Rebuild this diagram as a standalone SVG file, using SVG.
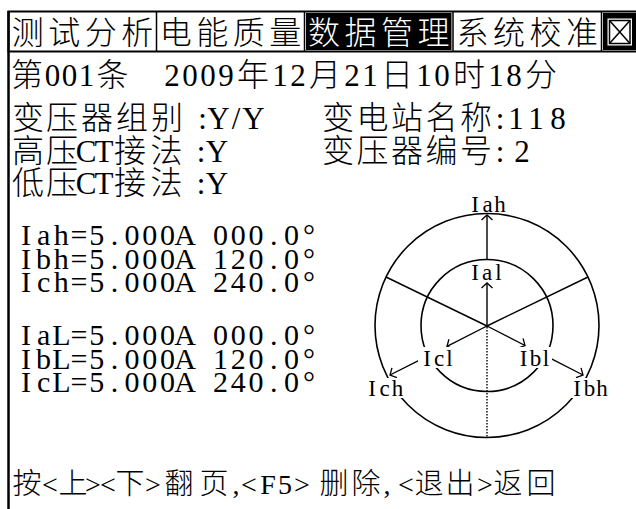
<svg xmlns="http://www.w3.org/2000/svg" width="636" height="509" viewBox="0 0 636 509">
<style>
  .bg { fill: #ffffff; }
  .frame { fill: none; stroke: #000; stroke-width: 2; }
  .sep { stroke: #000; stroke-width: 1.5; }
  .g { text-anchor: middle; }
  .tab { font-family: "Noto Sans CJK SC", "Liberation Serif", sans-serif; font-size: 32px; font-weight: 300; fill: #000; }
  .tab-on { fill: #fff; }
  .row { font-family: "Liberation Serif", "Noto Sans CJK SC", serif; font-size: 31px; fill: #000; }
  .row .cjk, .cjk { font-family: "Noto Sans CJK SC", sans-serif; font-size: 32px; font-weight: 300; }
  .data { font-family: "Liberation Serif", serif; font-size: 30px; fill: #000; }
  .bot { font-family: "Liberation Serif", "Noto Sans CJK SC", serif; font-size: 28px; fill: #000; }
  .bot .cjk { font-size: 29px; }
  .lbl { font-family: "Liberation Serif", serif; font-size: 23px; fill: #000; }
  .ring { fill: none; stroke: #000; stroke-width: 1.6; }
  .ln { fill: none; stroke: #000; stroke-width: 1.4; }
  .arr { marker-end: url(#caret); }
  .dot { fill: none; stroke: #000; stroke-width: 1.4; stroke-dasharray: 1.5 1.5; }
  .lblbg { fill: #fff; }
</style>
<defs>
  <marker id="caret" markerUnits="userSpaceOnUse" markerWidth="14" markerHeight="14" viewBox="-7 -7 14 14" refX="0" refY="0" orient="auto">
    <path d="M-5,-5.5 L0,0 L-5,5.5" fill="none" stroke="#000" stroke-width="1.3"/>
  </marker>
</defs>
<rect class="bg" x="0" y="0" width="636" height="509"/>

<g id="tabbar">
  <rect class="frame" x="8.5" y="11.5" width="640" height="40"/>
  <line class="sep" x1="156.5" y1="11.5" x2="156.5" y2="51.5"/>
  <line class="sep" x1="304.5" y1="11.5" x2="304.5" y2="51.5"/>
  <line class="sep" x1="453" y1="11.5" x2="453" y2="51.5"/>
  <line class="sep" x1="601.5" y1="11.5" x2="601.5" y2="51.5"/>
  <g id="tab-test"><text class="tab g" x="27.75 64.25 100.75 137.25" y="44">测试分析</text></g>
  <g id="tab-power"><text class="tab g" x="175.75 212.25 248.75 285.25" y="44">电能质量</text></g>
  <g id="tab-data">
    <rect x="306" y="13" width="145.5" height="37" fill="#000"/>
    <text class="tab tab-on g" x="324 360.5 397 433.5" y="44">数据管理</text>
  </g>
  <g id="tab-calib"><text class="tab g" x="472.5 509 545.5 582" y="44">系统校准</text></g>
  <g id="tab-close">
    <rect x="603" y="13" width="33" height="37" fill="#000"/>
    <rect x="607.5" y="18.5" width="24.5" height="27" fill="#fff"/>
    <rect x="609.5" y="20.5" width="20.5" height="23" fill="none" stroke="#000" stroke-width="1.5"/>
    <line x1="609.5" y1="20.5" x2="630" y2="43.5" stroke="#000" stroke-width="1.5"/>
    <line x1="630" y1="20.5" x2="609.5" y2="43.5" stroke="#000" stroke-width="1.5"/>
  </g>
</g>

<line id="left-border" x1="8.5" y1="11" x2="8.5" y2="509" stroke="#000" stroke-width="2.5"/>

<g id="record-info">
  <g id="record-no"><text class="row g" y="86"><tspan class="cjk" x="27">第</tspan><tspan x="52.5 69.5 86.5">001</tspan><tspan class="cjk" x="112.5">条</tspan></text></g>
  <g id="record-time"><text class="row g" y="86"><tspan x="172 190 208 226">2009</tspan><tspan class="cjk" x="253">年</tspan><tspan x="280 298">12</tspan><tspan class="cjk" x="325">月</tspan><tspan x="352 370">21</tspan><tspan class="cjk" x="397">日</tspan><tspan x="424 442">10</tspan><tspan class="cjk" x="469">时</tspan><tspan x="496 514">18</tspan><tspan class="cjk" x="541">分</tspan></text></g>
  <g id="group-type"><text class="row g" y="129"><tspan class="cjk" x="28 62 97 132 167">变压器组别</tspan><tspan x="202.5 218.5 236 253.5">:Y/Y</tspan></text></g>
  <g id="station"><text class="row g" y="129"><tspan class="cjk" x="338 372.5 407 441.5 476">变电站名称</tspan><tspan x="500 516 536 558">:118</tspan></text></g>
  <g id="hv-ct"><text class="row g" y="162"><tspan class="cjk" x="28 62">高压</tspan><tspan x="86 104">CT</tspan><tspan class="cjk" x="130 166.5">接法</tspan><tspan x="201 217">:Y</tspan></text></g>
  <g id="transformer-no"><text class="row g" y="162"><tspan class="cjk" x="338 372.5 407 441.5 476">变压器编号</tspan><tspan x="500 522">:2</tspan></text></g>
  <g id="lv-ct"><text class="row g" y="194"><tspan class="cjk" x="28 62">低压</tspan><tspan x="86 104">CT</tspan><tspan class="cjk" x="130 166.5">接法</tspan><tspan x="201 217">:Y</tspan></text></g>
</g>

<g id="current-values">
  <text class="data g" x="25.9 43.6 61.3 79 96.7 114.4 132.1 149.8 167.5 185.2 202.9 220.6 238.3 256 273.7 291.4 309.1" y="245">Iah=5.000A 000.0°</text>
  <text class="data g" x="25.9 43.6 61.3 79 96.7 114.4 132.1 149.8 167.5 185.2 202.9 220.6 238.3 256 273.7 291.4 309.1" y="268.5">Ibh=5.000A 120.0°</text>
  <text class="data g" x="25.9 43.6 61.3 79 96.7 114.4 132.1 149.8 167.5 185.2 202.9 220.6 238.3 256 273.7 291.4 309.1" y="292">Ich=5.000A 240.0°</text>
  <text class="data g" x="25.9 43.6 61.3 79 96.7 114.4 132.1 149.8 167.5 185.2 202.9 220.6 238.3 256 273.7 291.4 309.1" y="345">IaL=5.000A 000.0°</text>
  <text class="data g" x="25.9 43.6 61.3 79 96.7 114.4 132.1 149.8 167.5 185.2 202.9 220.6 238.3 256 273.7 291.4 309.1" y="368.5">IbL=5.000A 120.0°</text>
  <text class="data g" x="25.9 43.6 61.3 79 96.7 114.4 132.1 149.8 167.5 185.2 202.9 220.6 238.3 256 273.7 291.4 309.1" y="392">IcL=5.000A 240.0°</text>
</g>

<g id="phasor-diagram">
  <circle class="ring" cx="487" cy="325.5" r="112"/>
  <circle class="ring" cx="487" cy="325.5" r="66"/>
  <g id="connectors">
    <path class="ln" d="M487,326 L386,277"/>
    <path class="ln" d="M487,326 L588,277"/>
    <path class="ln arr" d="M487,326 L487,283"/>
    <path class="ln arr" d="M487,260 L487,215"/>
    <path class="ln arr" d="M487,326 L525,345.5"/>
    <path class="ln arr" d="M551,358.7 L583,375"/>
    <path class="ln arr" d="M487,326 L447,346.4"/>
    <path class="ln arr" d="M419,360.3 L390,375"/>
    <path class="dot" d="M487,327 L487,437.5"/>
  </g>
  <g id="label-Iah"><text class="lbl g" x="475 487.5 500" y="212">Iah</text></g>
  <g id="label-Ial"><text class="lbl g" x="475 487 498.5" y="280">Ial</text></g>
  <g id="label-Icl"><rect class="lblbg" x="418" y="347" width="37" height="21"/><text class="lbl g" x="427 439 449.5" y="366">Icl</text></g>
  <g id="label-Ibl"><rect class="lblbg" x="514" y="347" width="38" height="21"/><text class="lbl g" x="523.5 535.5 546" y="366">Ibl</text></g>
  <g id="label-Ich"><rect class="lblbg" x="362" y="378" width="45" height="20"/><text class="lbl g" x="372 384.5 397.5" y="396">Ich</text></g>
  <g id="label-Ibh"><rect class="lblbg" x="567" y="378" width="44" height="20"/><text class="lbl g" x="577 589.5 602" y="396">Ibh</text></g>
</g>

<g id="footer">
  <text class="bot g" y="494"><tspan class="cjk" x="27">按</tspan><tspan x="50">&lt;</tspan><tspan class="cjk" x="73">上</tspan><tspan x="93 108">&gt;&lt;</tspan><tspan class="cjk" x="130">下</tspan><tspan x="153">&gt;</tspan><tspan class="cjk" x="179 214">翻页</tspan><tspan x="236 249 268 285 302">,&lt;F5&gt;</tspan><tspan class="cjk" x="334 366">删除</tspan><tspan x="387 406">,&lt;</tspan><tspan class="cjk" x="429 460">退出</tspan><tspan x="485">&gt;</tspan><tspan class="cjk" x="508 541">返回</tspan></text>
</g>
</svg>
